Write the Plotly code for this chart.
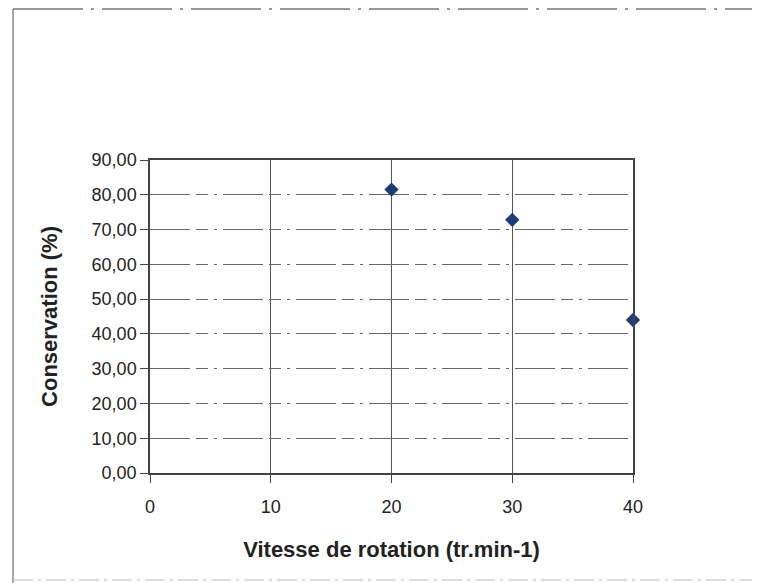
import plotly.graph_objects as go

# data
vitesse = [20, 30, 40]
conservation = [81.5, 72.8, 44.0]

x_ticks = [0, 10, 20, 30, 40]
y_ticks = [0, 10, 20, 30, 40, 50, 60, 70, 80, 90]

W, H = 760, 583
OFF = 8  # page body margin
L, R, T, B = 150 - OFF, W - 633 + OFF, 160 - OFF, H - 473 + OFF
pw, ph = W - L - R, H - T - B


def px(p):
    # screen pixel -> paper coordinate
    return (p - OFF - L) / pw


def py(q):
    return (H - B - (q - OFF)) / ph


fig = go.Figure()
fig.add_trace(go.Scatter(
    x=vitesse, y=conservation, mode="markers",
    marker=dict(symbol="diamond", size=11, color="#1c3b78",
                line=dict(width=0)),
    showlegend=False, cliponaxis=False,
))

tick_font = dict(family="Liberation Sans, Arial, sans-serif", color="#222", size=18)
title_font = dict(family="Liberation Sans, Arial, sans-serif", color="#222", size=22)

fig.update_xaxes(
    range=[0, 40], tickvals=x_ticks, showgrid=True, gridcolor="#555", gridwidth=1,
    showline=True, linecolor="#444", linewidth=1.5, mirror=True,
    ticks="outside", ticklen=8, tickcolor="#444", zeroline=False,
    tickfont=tick_font, ticklabelstandoff=9,
    title=dict(text="<b>Vitesse de rotation (tr.min-1)</b>", font=title_font, standoff=25),
)
fig.update_yaxes(
    range=[0, 90], tickvals=y_ticks, tickformat=".2f", showgrid=True,
    gridcolor="#666", gridwidth=1, griddash="40px,6px,12px,6px,3px,6px",
    showline=True, linecolor="#444", linewidth=1.5, mirror=True,
    ticks="outside", ticklen=8, tickcolor="#444", zeroline=False,
    tickfont=tick_font,
    title=dict(text="<b>Conservation (%)</b>", font=title_font, standoff=28),
)

# frame of the scanned chart object
fig.add_shape(type="line", xref="paper", yref="paper",
              x0=px(13), x1=px(13), y0=py(9), y1=py(590),
              line=dict(color="#888", width=1.5))
fig.add_shape(type="line", xref="paper", yref="paper",
              x0=px(13), x1=px(770), y0=py(9), y1=py(9),
              line=dict(color="#777", width=1.5, dash="70px,8px,3px,8px"))
fig.add_shape(type="line", xref="paper", yref="paper",
              x0=px(13), x1=px(770), y0=py(580), y1=py(580),
              line=dict(color="#bbb", width=1, dash="20px,5px,3px,5px"))

fig.update_layout(
    width=W, height=H, separators=", ",
    margin=dict(l=L, r=R, t=T, b=B),
    paper_bgcolor="white", plot_bgcolor="white",
    font=tick_font,
)

fig.write_html("out.html")
